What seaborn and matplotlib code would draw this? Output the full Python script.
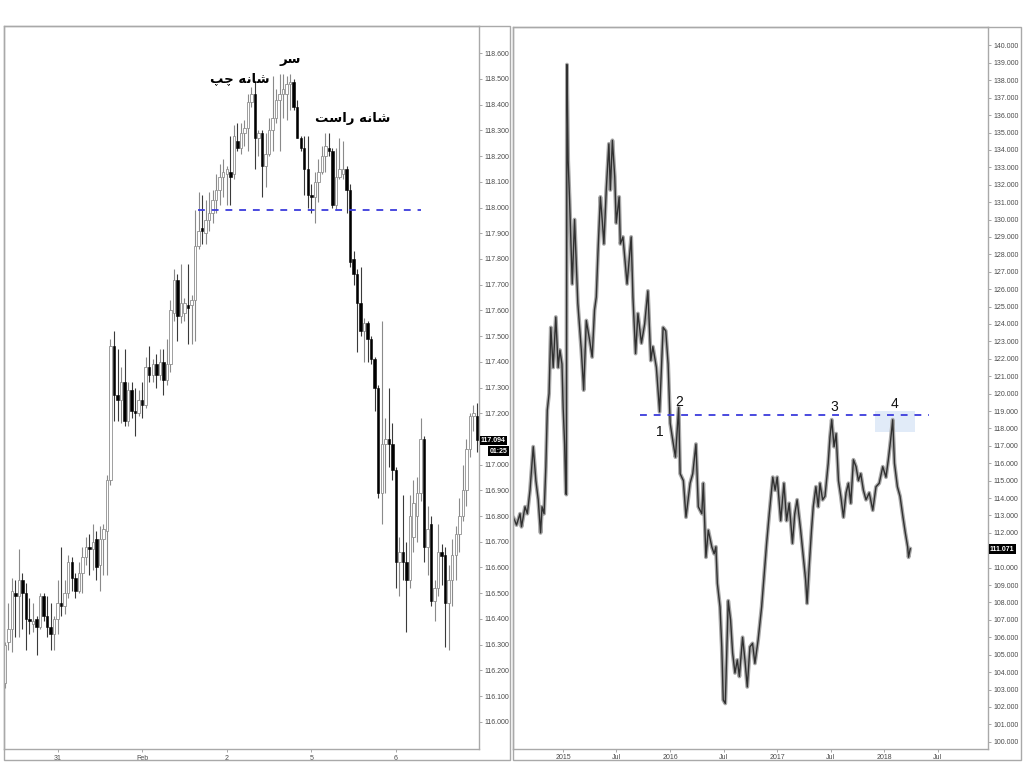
import numpy as np
import pandas as pd
import matplotlib
matplotlib.use("Agg")
import matplotlib.pyplot as plt
import matplotlib.dates as mdates
import matplotlib.transforms as mtrans
from matplotlib.patches import Rectangle
import seaborn as sns

# ---------------- left panel: hourly candles ----------------
l_open = [116.15,116.31,116.36,116.50,116.49,116.55,116.50,116.40,116.38,116.40,
          116.37,116.49,116.41,116.37,116.34,116.40,116.46,116.45,116.50,116.62,
          116.56,116.51,116.58,116.64,116.68,116.67,116.71,116.61,116.71,116.74,
          116.94,117.46,117.27,117.25,117.32,117.17,117.29,117.21,117.20,117.25,
          117.23,117.38,117.35,117.39,117.35,117.40,117.33,117.39,117.59,117.72,
          117.58,117.59,117.62,117.62,117.64,117.85,117.92,117.90,117.95,117.98,
          118.03,118.07,118.12,118.13,118.14,118.13,118.26,118.23,118.29,118.31,
          118.41,118.44,118.27,118.29,118.16,118.21,118.30,118.35,118.42,118.44,
          118.44,118.48,118.49,118.39,118.27,118.23,118.15,118.05,118.04,118.10,
          118.14,118.20,118.23,118.22,118.01,118.12,118.13,118.15,118.07,117.80,
          117.74,117.63,117.52,117.55,117.49,117.41,117.30,116.89,117.08,117.10,
          117.08,116.98,116.62,116.66,116.62,116.55,116.72,116.80,116.89,117.10,
          116.68,116.77,116.47,116.52,116.66,116.65,116.46,116.55,116.65,116.73,
          116.80,116.90,117.06,117.19,117.19]
l_high = [116.31,116.46,116.56,116.55,116.67,116.58,116.54,116.48,116.46,116.41,
          116.50,116.50,116.49,116.46,116.41,116.55,116.68,116.55,116.65,116.64,
          116.58,116.62,116.68,116.72,116.73,116.77,116.74,116.76,116.77,116.96,
          117.49,117.52,117.45,117.38,117.45,117.32,117.32,117.30,117.29,117.32,
          117.42,117.46,117.41,117.43,117.45,117.45,117.49,117.64,117.76,117.74,
          117.78,117.65,117.78,117.66,117.99,118.06,118.05,118.03,118.06,118.07,
          118.13,118.17,118.19,118.16,118.28,118.32,118.33,118.33,118.34,118.44,
          118.47,118.49,118.30,118.30,118.29,118.35,118.51,118.46,118.52,118.52,
          118.51,118.52,118.50,118.42,118.28,118.28,118.28,118.09,118.14,118.19,
          118.24,118.29,118.29,118.23,118.23,118.27,118.26,118.16,118.09,117.83,
          117.76,117.77,117.57,117.56,117.50,117.42,117.31,117.56,117.18,117.30,
          117.16,116.99,116.72,116.88,116.70,116.88,116.94,116.95,117.18,117.11,
          116.84,116.80,116.55,116.77,116.69,116.68,116.61,116.71,116.76,116.87,
          117.00,117.10,117.20,117.23,117.24]
l_low = [116.13,116.28,116.27,116.33,116.33,116.36,116.28,116.34,116.35,116.26,
         116.36,116.39,116.33,116.28,116.28,116.34,116.41,116.42,116.48,116.51,
         116.48,116.50,116.50,116.61,116.57,116.59,116.55,116.51,116.57,116.57,
         116.92,117.17,117.17,117.16,117.15,117.15,117.18,117.11,117.19,117.18,
         117.22,117.32,117.32,117.30,117.33,117.27,117.31,117.36,117.56,117.48,
         117.55,117.56,117.47,117.47,117.48,117.84,117.86,117.86,117.91,117.94,
         117.98,118.01,118.04,118.01,118.01,118.11,118.22,118.21,118.24,118.22,
         118.39,118.15,118.20,118.04,118.08,118.20,118.22,118.33,118.22,118.35,
         118.34,118.38,118.38,118.27,118.22,118.05,118.00,117.98,117.94,118.02,
         118.13,118.14,118.20,118.00,117.99,118.11,118.11,117.98,117.77,117.70,
         117.44,117.50,117.40,117.40,117.39,117.21,116.87,116.77,116.89,116.99,
         116.94,116.52,116.49,116.55,116.35,116.52,116.66,116.70,116.86,116.62,
         116.57,116.45,116.39,116.49,116.53,116.29,116.28,116.45,116.55,116.66,
         116.78,116.84,117.03,117.13,117.05]
l_close = [116.30,116.36,116.51,116.49,116.55,116.50,116.40,116.39,116.39,116.37,
           116.49,116.41,116.37,116.34,116.40,116.46,116.45,116.50,116.62,116.56,
           116.51,116.58,116.64,116.68,116.67,116.70,116.60,116.71,116.75,116.94,
           117.46,117.27,117.25,117.32,117.17,117.29,117.21,117.20,117.25,117.23,
           117.38,117.35,117.39,117.35,117.40,117.33,117.39,117.60,117.72,117.58,
           117.63,117.63,117.61,117.64,117.85,117.91,117.91,117.95,117.98,118.03,
           118.07,118.12,118.14,118.15,118.12,118.28,118.23,118.29,118.31,118.41,
           118.44,118.27,118.29,118.16,118.21,118.30,118.35,118.42,118.44,118.46,
           118.48,118.49,118.39,118.27,118.23,118.15,118.05,118.04,118.10,118.14,
           118.20,118.24,118.22,118.01,118.12,118.15,118.15,118.07,117.79,117.74,
           117.63,117.52,117.55,117.49,117.41,117.30,116.89,117.08,117.10,117.08,
           116.98,116.62,116.66,116.62,116.55,116.80,116.85,116.89,117.10,116.68,
           116.75,116.47,116.52,116.66,116.645,116.46,116.55,116.65,116.73,116.80,
           116.90,117.06,117.19,117.20,117.094]
l_tick_pos = [15, 39, 63, 87, 111]
l_tick_labels = ["31", "Feb", "2", "5", "6"]
l_yticks = [round(116.0 + 0.1 * i, 1) for i in range(27)]
l_hidden_tick = 117.1
l_neck = 117.99
l_last = "117.094"
l_timer = "01:25"

# Persian labels, pre-shaped (presentation forms, visual order)
lbl_head = "\uFEAE\uFEB3"                                        # سر
lbl_left = "\uFB57\uFB7C \uFEEA\uFEE7\uFE8E\uFEB7"               # شانه چپ
lbl_right = "\uFE96\uFEB3\uFE8D\uFEAD \uFEEA\uFEE7\uFE8E\uFEB7"  # شانه راست

# ---------------- right panel: daily series ----------------
r_dates = ["2014-07-15","2014-07-26","2014-08-07","2014-08-12","2014-08-24","2014-09-01","2014-09-10","2014-09-21","2014-09-30","2014-10-08",
           "2014-10-16","2014-10-21","2014-10-28","2014-11-03","2014-11-08","2014-11-14","2014-11-20","2014-11-28","2014-12-07","2014-12-15",
           "2014-12-21","2014-12-28","2015-01-01","2015-01-06","2015-01-10","2015-01-12","2015-01-14","2015-01-16","2015-01-18","2015-01-23",
           "2015-01-29","2015-02-01","2015-02-09","2015-02-15","2015-02-20","2015-03-04","2015-03-12","2015-03-21","2015-04-01","2015-04-10",
           "2015-04-18","2015-04-24","2015-04-30","2015-05-08","2015-05-15","2015-05-20","2015-05-28","2015-06-06","2015-06-11","2015-06-18",
           "2015-06-26","2015-07-01","2015-07-11","2015-07-15","2015-07-24","2015-07-30","2015-08-07","2015-08-16","2015-08-21","2015-08-27",
           "2015-09-05","2015-09-13","2015-09-25","2015-10-06","2015-10-17","2015-10-27","2015-11-03","2015-11-15","2015-11-26","2015-12-08",
           "2015-12-17","2015-12-25","2016-01-01","2016-01-10","2016-01-19","2016-01-30","2016-02-04","2016-02-15","2016-02-24","2016-03-09",
           "2016-03-18","2016-03-29","2016-04-06","2016-04-18","2016-04-23","2016-05-02","2016-05-10","2016-05-22","2016-05-30","2016-06-05",
           "2016-06-10","2016-06-19","2016-06-25","2016-06-30","2016-07-07","2016-07-17","2016-07-25","2016-08-01","2016-08-09","2016-08-17",
           "2016-08-24","2016-09-04","2016-09-12","2016-09-20","2016-09-29","2016-10-08","2016-10-16","2016-10-27","2016-11-08","2016-11-16",
           "2016-11-25","2016-12-04","2016-12-16","2016-12-24","2016-12-31","2017-01-12","2017-01-23","2017-02-01","2017-02-10","2017-02-21",
           "2017-03-01","2017-03-09","2017-03-21","2017-03-29","2017-04-07","2017-04-12","2017-04-19","2017-04-27","2017-05-03","2017-05-12",
           "2017-05-20","2017-05-26","2017-06-04","2017-06-12","2017-06-23","2017-06-29","2017-07-05","2017-07-13","2017-07-20","2017-07-28",
           "2017-08-05","2017-08-14","2017-08-23","2017-08-31","2017-09-08","2017-09-17","2017-09-26","2017-10-04","2017-10-12","2017-10-21",
           "2017-10-30","2017-11-10","2017-11-22","2017-12-03","2017-12-14","2017-12-26","2018-01-06","2018-01-14","2018-01-22","2018-01-29",
           "2018-02-04","2018-02-14","2018-02-23","2018-03-05","2018-03-13","2018-03-21","2018-03-24","2018-03-30"]
r_values = [112.9,112.45,113.1,112.35,113.5,113.1,114.45,116.95,115.0,113.9,
            112.0,113.5,113.1,115.8,119.05,120.0,123.8,121.5,124.4,121.5,
            122.5,121.7,119.2,117.1,114.3,114.2,138.9,136.0,133.4,131.1,
            127.85,126.3,130.0,127.3,125.2,122.5,120.2,124.2,123.1,122.1,
            124.8,125.55,128.2,131.3,129.8,128.6,131.7,134.35,131.7,134.55,
            132.45,129.8,131.3,128.6,129.0,127.85,126.3,128.05,129.0,125.55,
            122.3,124.6,122.9,124.0,125.9,121.9,122.7,121.5,118.95,123.8,
            123.6,121.7,118.3,117.3,116.35,119.2,115.4,115.0,112.9,114.85,
            115.4,117.1,113.5,113.1,114.85,110.6,112.15,111.2,110.8,111.2,
            109.1,107.75,105.45,102.4,102.2,108.1,107.0,105.1,103.95,104.7,
            103.75,106.0,104.7,103.15,105.45,105.65,104.5,105.85,107.75,109.5,
            111.4,113.1,115.2,114.45,115.2,112.7,114.85,112.7,113.7,111.4,
            113.1,113.9,112.15,110.8,109.3,107.95,110.05,112.15,113.5,114.65,
            113.5,114.85,113.9,114.1,116.0,117.5,118.5,116.95,117.7,115.0,
            114.1,112.9,114.3,114.85,113.7,116.2,115.8,115.0,115.4,114.45,
            113.9,114.3,113.3,114.65,114.85,115.8,115.2,116.2,117.35,118.5,
            116.0,114.65,114.1,112.9,112.0,111.2,110.6,111.1]
r_tick_dates = ["2015-01-01","2015-07-01","2016-01-01","2016-07-01","2017-01-01","2017-07-01","2018-01-01","2018-07-01"]
r_tick_labels = ["2015","Jul","2016","Jul","2017","Jul","2018","Jul"]
r_yticks = list(range(100, 141))
r_hidden_tick = 111
r_level = 118.75
r_marks = ["1", "2", "3", "4"]
r_mark_dates = ["2015-11-27", "2016-02-02", "2017-07-14", "2018-02-04"]
r_mark_values = [117.8, 119.5, 119.25, 119.4]
r_box = ("2017-11-29", "2018-04-16", 117.77, 118.99)
r_last = "111.071"

# ---------------- styling ----------------
sns.set_theme(style="white")
plt.rcParams["font.family"] = ["Liberation Sans", "DejaVu Sans"]

W, H = 1024, 783
fig = plt.figure(figsize=(W / 100, H / 100), dpi=100)
fig.patch.set_facecolor("white")

def frect(x0, y0, x1, y1):
    return [x0 / W, 1 - y1 / H, (x1 - x0) / W, (y1 - y0) / H]

frame_c = "#a9a9a9"
for (x0, y0, x1, y1) in [(3.5, 26, 510, 759.5), (513.3, 26.5, 1020.5, 760)]:
    fig.add_artist(Rectangle((x0 / W, 1 - y1 / H), (x1 - x0) / W, (y1 - y0) / H,
                             transform=fig.transFigure, fill=False, ec=frame_c, lw=1.0))

def style_axes(ax):
    ax.set_facecolor("white")
    for s in ax.spines.values():
        s.set_visible(True)
        s.set_color(frame_c)
        s.set_linewidth(1.0)
    ax.yaxis.tick_right()
    ax.tick_params(axis="y", which="both", right=True, left=False, length=2.5, width=0.6,
                   color="#999999", labelsize=5, labelcolor="#4a4a4a", pad=1.5)
    ax.tick_params(axis="x", which="both", bottom=True, length=2.5, width=0.6,
                   color="#999999", labelsize=5, labelcolor="#4a4a4a", pad=1.5)
    ax.grid(False)

box_kw = dict(boxstyle="square,pad=0.18", fc="black", ec="none")

# ---------------- left axes ----------------
axL = fig.add_axes(frect(4, 26, 479, 749))
style_axes(axL)
df = pd.DataFrame({"o": l_open, "h": l_high, "l": l_low, "c": l_close})
df["i"] = np.arange(len(df))
up = df["c"] >= df["o"]
dn = ~up
axL.vlines(df["i"][up], df["l"][up], df["h"][up], color="#8a8a8a", lw=0.8, zorder=2)
axL.vlines(df["i"][dn], df["l"][dn], df["h"][dn], color="#3a3a3a", lw=0.8, zorder=2)
body_h = np.maximum((df["c"] - df["o"]).abs(), 0.007)
body_b = np.minimum(df["c"], df["o"])
axL.bar(df["i"][up], body_h[up], bottom=body_b[up], width=0.7, color="white",
        edgecolor="#8f8f8f", linewidth=0.6, zorder=3)
axL.bar(df["i"][dn], body_h[dn], bottom=body_b[dn], width=0.7, color="black",
        edgecolor="black", linewidth=0.4, zorder=3)
axL.hlines(l_neck, 54.9, 118.0, colors="#3c3cdc", linestyles=(0, (3.8, 3.8)), lw=1.3, zorder=4)
axL.set_xlim(-0.23, 134.6)
axL.set_ylim(115.894, 118.706)
axL.set_yticks(l_yticks)
axL.set_yticklabels(["" if abs(v - l_hidden_tick) < 1e-6 else f"{v:.3f}" for v in l_yticks])
axL.set_xticks(l_tick_pos)
axL.set_xticklabels(l_tick_labels)

fa = dict(family=["DejaVu Sans"], fontsize=9.5, fontweight="bold", color="black",
          ha="center", va="center", zorder=6)
axL.text(80.9, 118.574, lbl_head, **fa)
axL.text(66.75, 118.50, lbl_left, **fa)
axL.text(98.8, 118.345, lbl_right, **fa)

trL = mtrans.blended_transform_factory(axL.transAxes, axL.transData)
axL.text(1.004, 117.094, l_last, transform=trL, ha="left", va="center", fontsize=5,
         color="white", fontweight="bold", zorder=7, clip_on=False, bbox=box_kw)
axL.text(1.0595, 117.053, l_timer, transform=trL, ha="right", va="center", fontsize=5,
         color="white", fontweight="bold", zorder=7, clip_on=False, bbox=box_kw)

# ---------------- right axes ----------------
axR = fig.add_axes(frect(513.3, 26.5, 988, 748.7))
style_axes(axR)
rdf = pd.DataFrame({"date": pd.to_datetime(r_dates), "price": r_values})
sns.lineplot(data=rdf, x="date", y="price", ax=axR, color="#a8a8a8", lw=2.8, zorder=2)
sns.lineplot(data=rdf, x="date", y="price", ax=axR, color="#303030", lw=1.0, zorder=3)
axR.set_xlabel("")
axR.set_ylabel("")
axR.hlines(r_level, pd.Timestamp("2015-09-19"), pd.Timestamp("2018-06-01"),
           colors="#3c3cdc", linestyles=(0, (3.8, 3.8)), lw=1.3, zorder=4)
bx0, bx1 = mdates.date2num(pd.Timestamp(r_box[0])), mdates.date2num(pd.Timestamp(r_box[1]))
axR.add_patch(Rectangle((bx0, r_box[2]), bx1 - bx0, r_box[3] - r_box[2],
                        fc="#dce8f7", ec="none", alpha=0.85, zorder=1))
for m, d, v in zip(r_marks, r_mark_dates, r_mark_values):
    axR.text(pd.Timestamp(d), v, m, fontsize=10, ha="center", va="center", color="#111111", zorder=6)
axR.set_xlim(pd.Timestamp("2014-07-15"), pd.Timestamp("2018-12-20"))
axR.set_ylim(99.6, 141.09)
axR.set_yticks(r_yticks)
axR.set_yticklabels(["" if v == r_hidden_tick else f"{v:.3f}" for v in r_yticks])
axR.set_xticks(pd.to_datetime(r_tick_dates))
axR.set_xticklabels(r_tick_labels)
trR = mtrans.blended_transform_factory(axR.transAxes, axR.transData)
axR.text(1.004, 111.071, r_last, transform=trR, ha="left", va="center", fontsize=5,
         color="white", fontweight="bold", zorder=7, clip_on=False, bbox=box_kw)

fig.savefig("out.png", dpi=100, facecolor="white")
